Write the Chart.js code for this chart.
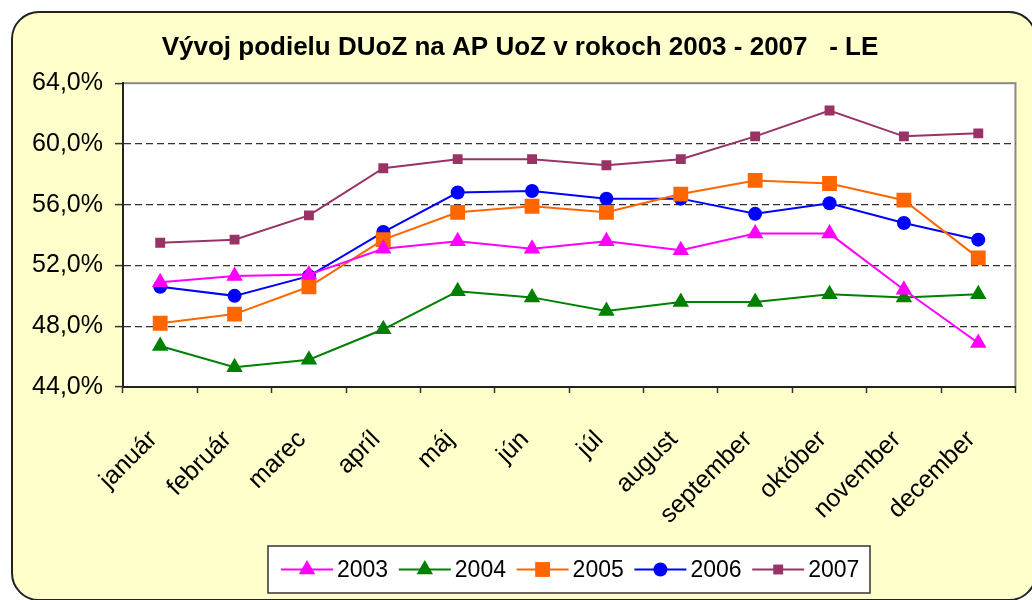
<!DOCTYPE html>
<html>
<head>
<meta charset="utf-8">
<title>Vývoj podielu DUoZ na AP UoZ</title>
<script src="https://cdn.jsdelivr.net/npm/chart.js@4"></script>
<style>
    html, body { margin: 0; padding: 0; background: #fff; }
    #wrap { position: relative; width: 1032px; height: 600px; overflow: hidden; }
    #frame {
        position: absolute; left: 11px; top: 11px; width: 1022px; height: 586px;
        background: #ffffcc; border: 2px solid #222; border-radius: 28px;
    }
    #chart { position: absolute; left: 0; top: 0; }
</style>
</head>
<body>
<div id="wrap">
    <div id="frame"></div>
    <canvas id="chart" width="1032" height="600"></canvas>
</div>
<script>
var months = ['január', 'február', 'marec', 'apríl', 'máj', 'jún', 'júl', 'august', 'september', 'október', 'november', 'december'];
var years = ['2003', '2004', '2005', '2006', '2007'];

var v2003 = [50.9, 51.3, 51.4, 53.1, 53.6, 53.1, 53.6, 53.0, 54.1, 54.1, 50.4, 46.9];
var v2004 = [46.7, 45.3, 45.8, 47.8, 50.3, 49.9, 49.0, 49.6, 49.6, 50.1, 49.9, 50.1];
var v2005 = [48.2, 48.8, 50.6, 53.7, 55.5, 55.9, 55.5, 56.7, 57.6, 57.4, 56.3, 52.5];
var v2006 = [50.6, 50.0, 51.3, 54.2, 56.8, 56.9, 56.4, 56.4, 55.4, 56.1, 54.8, 53.7];
var v2007 = [53.5, 53.7, 55.3, 58.4, 59.0, 59.0, 58.6, 59.0, 60.5, 62.2, 60.5, 60.7];

var yTicks = [44, 48, 52, 56, 60, 64];

var colors = ['#ff00ff', '#008000', '#ff6600', '#0000ff', '#993366'];
var markers = ['triangle', 'triangle', 'rect', 'circle', 'rect'];
var markerSizes = [9.5, 9.5, 10.5, 7, 7];

var FONT = '"Liberation Sans", Arial, sans-serif';

function makeSet(i, data) {
    return {
        label: years[i],
        data: data,
        borderColor: colors[i],
        backgroundColor: colors[i],
        borderWidth: 2,
        pointStyle: markers[i],
        pointRadius: markerSizes[i],
        pointHoverRadius: markerSizes[i],
        pointBorderWidth: 0,
        tension: 0
    };
}

// white plot area with gray frame behind the lines
var plotArea = {
    id: 'plotArea',
    beforeDraw: function (chart) {
        var a = chart.chartArea, ctx = chart.ctx;
        ctx.save();
        ctx.fillStyle = '#ffffff';
        ctx.fillRect(a.left, a.top, a.right - a.left, a.bottom - a.top);
        ctx.strokeStyle = '#888888';
        ctx.lineWidth = 2;
        ctx.strokeRect(a.left, a.top, a.right - a.left, a.bottom - a.top);
        ctx.restore();
    }
};

// excel style legend: line with marker in the middle
var boxLegend = {
    id: 'boxLegend',
    afterDraw: function (chart) {
        var ctx = chart.ctx;
        var x0 = 268, y0 = 546, w = 602, h = 47;
        ctx.save();
        ctx.fillStyle = '#ffffff';
        ctx.fillRect(x0, y0, w, h);
        ctx.strokeStyle = '#333333';
        ctx.lineWidth = 1.5;
        ctx.strokeRect(x0, y0, w, h);

        var cy = y0 + h / 2;
        chart.data.datasets.forEach(function (ds, i) {
            var lx = 281 + i * 117.8;
            ctx.strokeStyle = ds.borderColor;
            ctx.lineWidth = 2;
            ctx.beginPath();
            ctx.moveTo(lx, cy);
            ctx.lineTo(lx + 52, cy);
            ctx.stroke();
            ctx.fillStyle = ds.backgroundColor;
            Chart.helpers.drawPoint(ctx, {
                pointStyle: ds.pointStyle,
                radius: ds.pointRadius,
                rotation: 0,
                borderWidth: 0
            }, lx + 26, cy);
            ctx.fillStyle = '#000000';
            ctx.font = '23px ' + FONT;
            ctx.textBaseline = 'middle';
            ctx.textAlign = 'left';
            ctx.fillText(ds.label, lx + 56, cy + 1);
        });
        ctx.restore();
    }
};

var ctx = document.getElementById('chart');

var chart = new Chart(ctx, {
    type: 'line',
    data: {
        labels: months,
        datasets: [
            makeSet(0, v2003),
            makeSet(1, v2004),
            makeSet(2, v2005),
            makeSet(3, v2006),
            makeSet(4, v2007)
        ]
    },
    options: {
        responsive: false,
        animation: false,
        events: [],
        layout: {
            padding: {left: 20, right: 12, top: 0, bottom: 0}
        },
        plugins: {
            legend: {display: false},
            tooltip: {enabled: false},
            title: {
                display: true,
                text: 'Vývoj podielu DUoZ na AP UoZ v rokoch 2003 - 2007   - LE',
                color: '#000000',
                font: {family: FONT, size: 26, weight: 'bold', lineHeight: 1.2},
                padding: {top: 32, bottom: 20}
            }
        },
        scales: {
            x: {
                offset: true,
                grid: {
                    offset: true,
                    drawOnChartArea: false,
                    drawTicks: true,
                    tickLength: 6,
                    tickColor: '#333333',
                    tickWidth: 1.5
                },
                border: {display: true, color: '#222222', width: 2},
                ticks: {
                    autoSkip: false,
                    minRotation: 45,
                    maxRotation: 45,
                    padding: 32,
                    labelOffset: -7,
                    color: '#000000',
                    font: {family: FONT, size: 25}
                },
                afterFit: function (scale) {
                    scale.height = 600 - 387;
                }
            },
            y: {
                min: 44,
                max: 64,
                afterBuildTicks: function (scale) {
                    scale.ticks = yTicks.map(function (v) {
                        return {value: v};
                    });
                },
                grid: {
                    color: function (c) {
                        var v = c.tick && c.tick.value;
                        return (v === 44 || v === 64) ? 'rgba(0,0,0,0)' : '#333333';
                    },
                    lineWidth: 1.2,
                    drawTicks: true,
                    tickLength: 8,
                    tickColor: '#333333',
                    tickWidth: 1.5
                },
                border: {display: true, color: '#222222', width: 2, dash: [7, 4]},
                ticks: {
                    padding: 12,
                    color: '#000000',
                    font: {family: FONT, size: 25},
                    callback: function (v) {
                        return v.toFixed(1).replace('.', ',') + '%';
                    }
                },
                afterFit: function (scale) {
                    // plot area starts at x = 123 (20 px layout padding + axis)
                    scale.width = 103;
                }
            }
        }
    },
    plugins: [plotArea, boxLegend]
});
</script>
</body>
</html>
